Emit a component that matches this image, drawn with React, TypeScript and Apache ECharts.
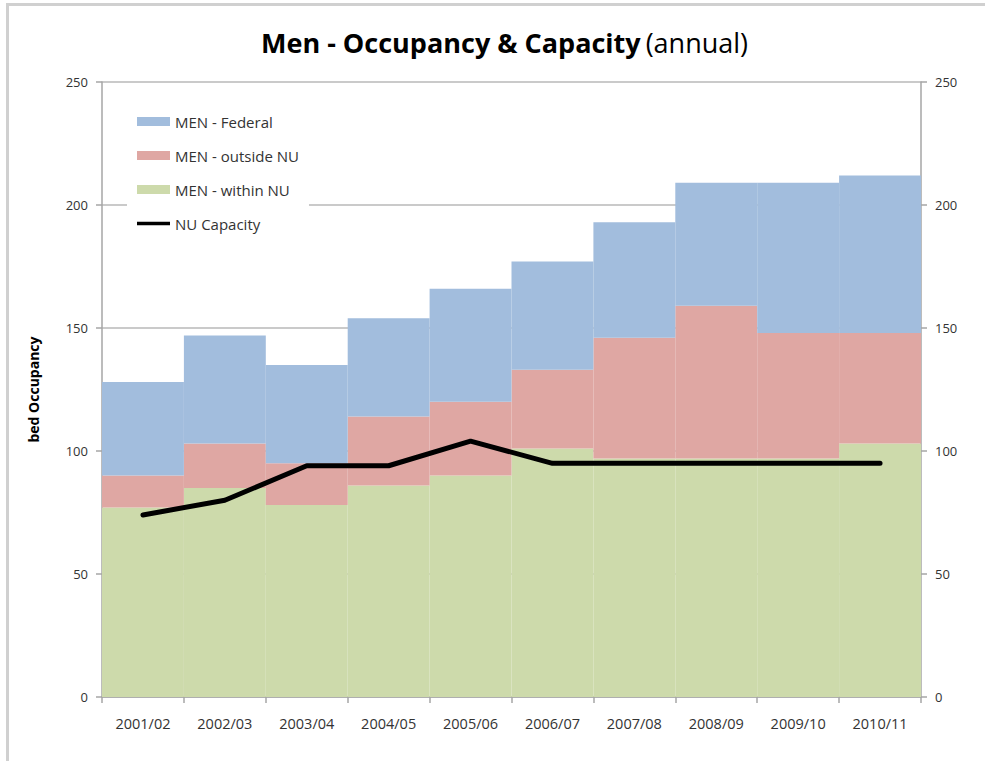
import React, { useEffect, useRef } from "react";
import * as echarts from "echarts";

const categories = ["2001/02", "2002/03", "2003/04", "2004/05", "2005/06", "2006/07", "2007/08", "2008/09", "2009/10", "2010/11"];
const withinNU = [77, 85, 78, 86, 90, 101, 97, 97, 97, 103];
const outsideNU = [13, 18, 17, 28, 30, 32, 49, 62, 51, 45];
const federal = [38, 44, 40, 40, 46, 44, 47, 50, 61, 64];
const nuCapacity = [74, 80, 94, 94, 104, 95, 95, 95, 95, 95];

const FONT = "Open Sans";

export default function App() {
  const ref = useRef<HTMLDivElement>(null);
  useEffect(() => {
    if (!ref.current) return;
    const chart = echarts.init(ref.current, null, { renderer: "svg" });
    const axisLine = { show: true, lineStyle: { color: "#a6a6a6", width: 1.5 } };
    const axisTick = { show: true, length: 6, lineStyle: { color: "#a6a6a6", width: 1.5 } };
    const yLabel = { fontFamily: FONT, fontSize: 13, color: "#333" };
    chart.setOption({
      animation: false,
      backgroundColor: "#fff",
      title: {
        text: "{b|Men - Occupancy & Capacity} {n|(annual)}",
        left: 256,
        top: 24,
        textStyle: {
          rich: {
            b: { fontFamily: FONT, fontSize: 27, fontWeight: "bold", color: "#000" },
            n: { fontFamily: FONT, fontSize: 27, fontWeight: "normal", color: "#000" },
          },
        },
      },
      graphic: [
        { type: "line", shape: { x1: 7.5, y1: 4, x2: 7.5, y2: 761 }, style: { stroke: "#d0d0d0", lineWidth: 3 } },
        { type: "line", shape: { x1: 6, y1: 4.5, x2: 985, y2: 4.5 }, style: { stroke: "#d0d0d0", lineWidth: 3 } },
      ],
      legend: {
        orient: "vertical",
        left: 127,
        top: 104,
        padding: [10, 10, 10, 10],
        backgroundColor: "#fff",
        itemWidth: 33,
        itemHeight: 9,
        itemGap: 19,
        textStyle: { fontFamily: FONT, fontSize: 15, color: "#333", lineHeight: 14 },
        data: [
          { name: "MEN - Federal", icon: "rect" },
          { name: "MEN - outside NU", icon: "rect" },
          { name: "MEN - within NU", icon: "rect" },
          { name: "NU Capacity", icon: "path://M0,0 L33,0 L33,3.5 L0,3.5 Z" },
        ],
      },
      grid: { left: 102, right: 64, top: 82, bottom: 64 },
      xAxis: {
        type: "category",
        data: categories,
        axisLine,
        axisTick: { ...axisTick, alignWithLabel: false },
        axisLabel: { fontFamily: FONT, fontSize: 14.5, color: "#333", margin: 19 },
        splitLine: { show: false },
      },
      yAxis: [
        {
          type: "value",
          min: 0,
          max: 250,
          interval: 50,
          name: "bed Occupancy",
          nameLocation: "middle",
          nameGap: 62,
          nameTextStyle: { fontFamily: FONT, fontSize: 14, fontWeight: "bold", color: "#000" },
          axisLine,
          axisTick,
          axisLabel: { ...yLabel, margin: 14 },
          splitLine: { show: true, lineStyle: { color: "#b8b8b8", width: 1.5 } },
        },
        {
          type: "value",
          min: 0,
          max: 250,
          interval: 50,
          position: "right",
          axisLine,
          axisTick,
          axisLabel: { ...yLabel, margin: 14 },
          splitLine: { show: false },
        },
      ],
      series: [
        {
          name: "MEN - within NU",
          type: "bar",
          stack: "men",
          data: withinNU,
          barCategoryGap: "0%",
          itemStyle: { color: "#CDDAAB" },
        },
        {
          name: "MEN - outside NU",
          type: "bar",
          stack: "men",
          data: outsideNU,
          barCategoryGap: "0%",
          itemStyle: { color: "#DFA7A3" },
        },
        {
          name: "MEN - Federal",
          type: "bar",
          stack: "men",
          data: federal,
          barCategoryGap: "0%",
          itemStyle: { color: "#A2BDDD" },
        },
        {
          name: "NU Capacity",
          type: "line",
          data: nuCapacity,
          symbol: "none",
          lineStyle: { color: "#000", width: 5, cap: "round", join: "round" },
          itemStyle: { color: "#000" },
          z: 5,
        },
      ],
    });
    return () => chart.dispose();
  }, []);
  return (
    <div style={{ position: "fixed", left: 0, top: 0, width: 985, height: 761 }}>
      <div ref={ref} style={{ width: 985, height: 761 }} />
    </div>
  );
}
